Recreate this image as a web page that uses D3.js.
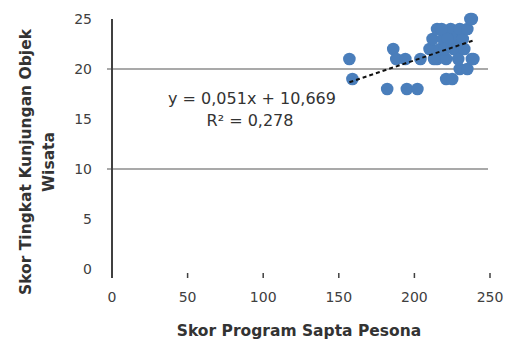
<!DOCTYPE html>
<html><head><meta charset="utf-8">
<script src="https://cdn.jsdelivr.net/npm/d3@7"></script>
<style>body{margin:0;background:#fff}svg{display:block}</style>
</head><body>
<svg id="c" width="510" height="342"></svg>
<script>
const xVals=[157,159,182,195,202,186,188,194,204,210,211,212,215,215,217,219,221,221,224,225,226,227,230,230,232,235,235,237,238,239,218,222,228,233,213,220,238,229];
const yVals=[21,19,18,18,18,22,21,21,21,22,22,23,24,21,22,23,21,19,24,19,22,23,24,20,23,24,20,25,21,21,24,23,22,22,21,22,25,21];
const xTicks=[0,50,100,150,200,250];
const yTicks=[0,5,10,15,20,25];
const gridVals=[10,20];
const slope=0.051, intercept=10.669;
const eqText="y = 0,051x + 10,669";
const r2Text="R² = 0,278";
const xTitle="Skor Program Sapta Pesona";
const yTitle=["Skor Tingkat Kunjungan Objek","Wisata"];

const svg=d3.select("#c");
const x=d3.scaleLinear().domain([0,250]).range([112,490]);
const y=d3.scaleLinear().domain([0,25]).range([269,19]);
const font="'DejaVu Sans', sans-serif";

svg.append("g").selectAll("line").data(gridVals).join("line")
 .attr("x1",107).attr("x2",488).attr("y1",d=>y(d)).attr("y2",d=>y(d))
 .attr("stroke","#8c8c8c").attr("stroke-width",1.5);
svg.append("line").attr("x1",x(0)).attr("x2",x(0)).attr("y1",y(25)).attr("y2",278)
 .attr("stroke","#404040").attr("stroke-width",2);
svg.append("g").selectAll("line").data(xTicks.slice(1)).join("line")
 .attr("x1",d=>x(d)).attr("x2",d=>x(d)).attr("y1",273).attr("y2",278)
 .attr("stroke","#404040").attr("stroke-width",1.5);
svg.append("g").selectAll("text").data(yTicks).join("text")
 .attr("x",92).attr("y",d=>y(d)).attr("dy","0.36em").attr("text-anchor","end")
 .attr("font-family",font).attr("font-size",14).attr("fill","#404040").text(d=>d);
svg.append("g").selectAll("text").data(xTicks).join("text")
 .attr("x",d=>x(d)).attr("y",297).attr("dy","0.36em").attr("text-anchor","middle")
 .attr("font-family",font).attr("font-size",14).attr("fill","#404040").text(d=>d);
svg.append("g").selectAll("circle").data(xVals.map((v,i)=>[v,yVals[i]])).join("circle")
 .attr("cx",d=>x(d[0])).attr("cy",d=>y(d[1])).attr("r",6.3).attr("fill","#4a7ebb");
const [xmin,xmax]=d3.extent(xVals);
svg.append("line").attr("x1",x(xmin)).attr("y1",y(slope*xmin+intercept))
 .attr("x2",x(xmax)).attr("y2",y(slope*xmax+intercept))
 .attr("stroke","#111").attr("stroke-width",2).attr("stroke-dasharray","4,3");
svg.append("text").attr("x",252).attr("y",104).attr("text-anchor","middle")
 .attr("font-family",font).attr("font-size",16).attr("fill","#333").text(eqText);
svg.append("text").attr("x",250).attr("y",126).attr("text-anchor","middle")
 .attr("font-family",font).attr("font-size",16).attr("fill","#333").text(r2Text);
svg.append("text").attr("x",299).attr("y",336).attr("text-anchor","middle")
 .attr("font-family",font).attr("font-weight","bold").attr("font-size",15.5).attr("fill","#333").text(xTitle);
const yt=svg.append("text").attr("transform","translate(0,162) rotate(-90)")
 .attr("text-anchor","middle").attr("font-family",font).attr("font-weight","bold")
 .attr("font-size",15.5).attr("fill","#333");
yt.append("tspan").attr("x",0).attr("y",31).text(yTitle[0]);
yt.append("tspan").attr("x",0).attr("y",54).text(yTitle[1]);
</script>
</body></html>
